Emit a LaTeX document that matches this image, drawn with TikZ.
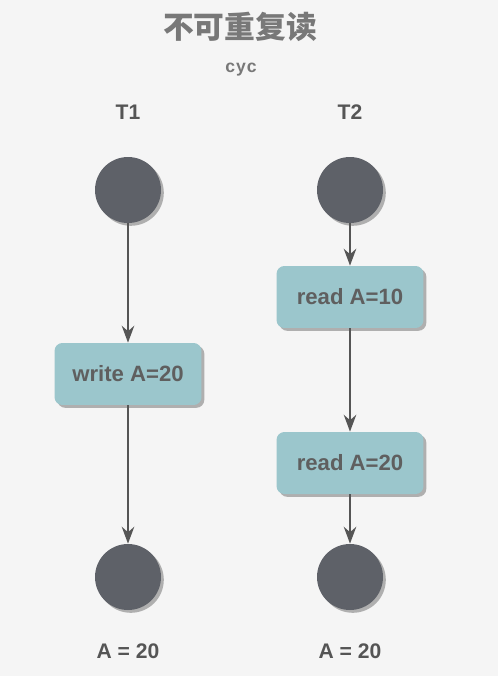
\documentclass[tikz,border=0pt]{standalone}
\usepackage{fontspec}
\setmainfont{Liberation Sans}
\newfontfamily\cjkfont{Noto Sans CJK SC}
\usepackage{tikz}
\usetikzlibrary{arrows.meta, positioning, shadows}
\definecolor{mybg}{RGB}{245,245,245}
\definecolor{mydark}{RGB}{94,97,104}
\definecolor{mytext}{RGB}{95,95,95}
\definecolor{mytitle}{RGB}{120,120,120}
\definecolor{myline}{RGB}{85,85,85}
\definecolor{myteal}{RGB}{155,198,204}
\definecolor{myshadow}{RGB}{175,175,175}
\tikzset{
  state/.style={circle, fill=mydark, minimum size=1.32cm, inner sep=0pt,
    general shadow={shadow xshift=1.6pt, shadow yshift=-1.6pt, fill=myshadow}},
  opbox/.style={rectangle, fill=myteal, minimum width=2.94cm, minimum height=1.24cm,
    rounded corners=4.5pt, font=\fontsize{12.6}{15}\selectfont\bfseries, text=mytext,
    general shadow={shadow xshift=1.6pt, shadow yshift=-1.6pt, fill=myshadow}},
  lane/.style={font=\fontsize{12}{14}\selectfont\bfseries, text=myline},
  arrow/.style={-{Stealth[length=9.5pt, width=7pt, inset=3pt]}, line width=1.6pt, color=myline}
}

\begin{document}
\begin{tikzpicture}[x=0.02cm, y=-0.02cm]

  % Background
  \fill[mybg] (0,0) rectangle (498,676);
  \useasboundingbox (0,0) rectangle (498,676);

  % Title
  \node[font=\cjkfont\fontsize{17.5}{20}\selectfont\bfseries, text=mytitle] (title) at (240,27) {不可重复读};
  \node[font=\fontsize{10}{12}\selectfont\bfseries\addfontfeatures{LetterSpace=6}, text=mytitle] (sub) at (241,70) {cyc};

  % Lanes
  \node[lane] (t1) at (128,112) {T1};
  \node[lane] (t2) at (350,112) {T2};

  % T1
  \node[state] (s1) at (128,190) {};
  \node[opbox] (w1) at (128,374) {write A=20};
  \node[state] (e1) at (128,577) {};
  \node[lane] (r1) at (128,651) {A = 20};

  % T2
  \node[state] (s2) at (350,190) {};
  \node[opbox] (rd1) at (350,297) {read A=10};
  \node[opbox] (rd2) at (350,463) {read A=20};
  \node[state] (e2) at (350,577) {};
  \node[lane] (r2) at (350,651) {A = 20};

  % Paths
  \draw[arrow] (s1) -- (w1);
  \draw[arrow] (w1) -- (e1);
  \draw[arrow] (s2) -- (rd1);
  \draw[arrow] (rd1) -- (rd2);
  \draw[arrow] (rd2) -- (e2);
\end{tikzpicture}
\end{document}
